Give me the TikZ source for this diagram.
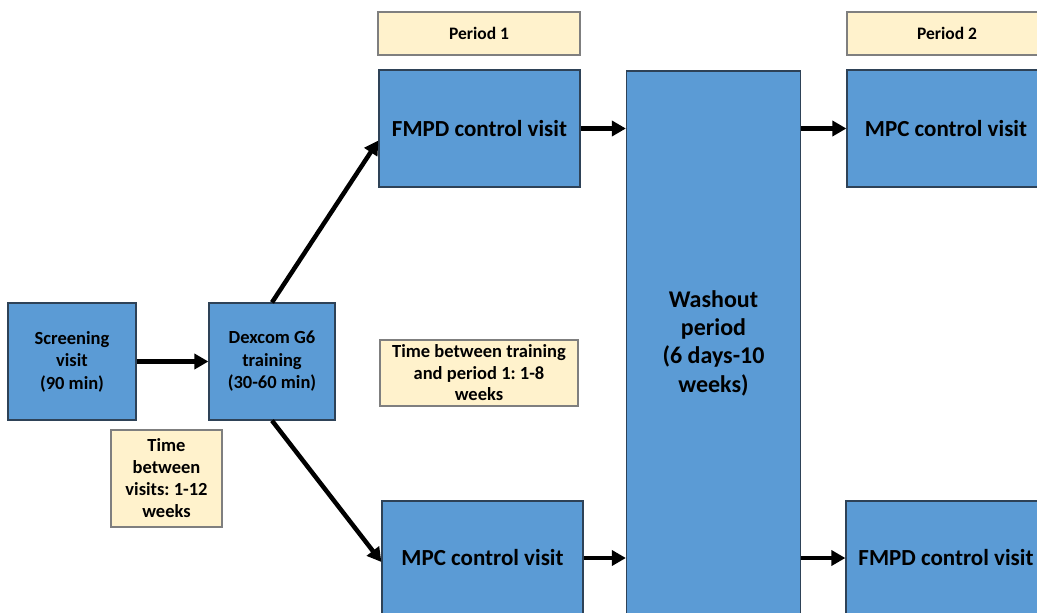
\documentclass[tikz,border=0pt]{standalone}
\usepackage{fontspec}
\setmainfont{Carlito}
\usetikzlibrary{arrows.meta,calc}
\definecolor{boxblue}{HTML}{5B9BD5}
\definecolor{boxedge}{HTML}{2E4257}
\definecolor{notefill}{HTML}{FFF2CC}
\definecolor{noteedge}{HTML}{7F7F7F}
\frenchspacing
\tikzset{
  visitbox/.style={draw=boxedge, line width=1.2pt, fill=boxblue, inner sep=0pt, align=center, font=\bfseries},
  notebox/.style={draw=noteedge, line width=1.2pt, fill=notefill, inner sep=0pt, align=center, font=\bfseries},
  flow/.style={line width=4.5pt, -{Triangle[length=14pt,width=15pt]}, shorten >=0pt},
}
\begin{document}
\begin{tikzpicture}[x=1pt,y=-1pt]
\useasboundingbox (0,0) rectangle (1037,613);
\begin{scope}
\clip (0,0) rectangle (1037,613);
\fill[white] (0,0) rectangle (1037,613);
% left boxes
\node[visitbox, minimum width=128pt, minimum height=117pt, font=\fontsize{18.5}{22.5}\selectfont\bfseries\frenchspacing] (scr) at (72,361.5) {Screening\\visit\\(90 min)};
\node[visitbox, minimum width=126pt, minimum height=117pt, font=\fontsize{18.5}{22.5}\selectfont\bfseries\frenchspacing] (dex) at (272,361.5) {Dexcom G6\\training\\(30-60 min)};
\node[notebox, minimum width=111pt, minimum height=97pt, font=\fontsize{18.5}{22}\selectfont\bfseries\frenchspacing] (tbv) at (166.5,478.5) {Time\\between\\visits: 1-12\\weeks};
% period 1
\node[notebox, minimum width=202pt, minimum height=43pt, font=\fontsize{17.5}{20}\selectfont\bfseries\frenchspacing] (p1) at (479,33.5) {Period 1};
\node[visitbox, minimum width=201pt, minimum height=117pt, font=\fontsize{23}{27}\selectfont\bfseries\frenchspacing] (fmpd) at (479.5,128.5) {FMPD control visit};
\node[notebox, minimum width=198pt, minimum height=66pt, font=\fontsize{18.5}{21.5}\selectfont\bfseries\frenchspacing] (tbt) at (479,373) {Time between training\\and period 1: 1-8\\weeks};
\node[visitbox, minimum width=201pt, minimum height=114pt, font=\fontsize{23}{27}\selectfont\bfseries\frenchspacing] (mpc) at (482.5,558) {MPC control visit};
% washout
\node[visitbox, minimum width=174pt, minimum height=544pt, font=\fontsize{24}{28.3}\selectfont\bfseries\frenchspacing] (wash) at (713.5,343) {Washout\\period\\(6 days-10\\weeks)};
% period 2
\node[notebox, minimum width=200pt, minimum height=43pt, font=\fontsize{17.5}{20}\selectfont\bfseries\frenchspacing] (p2) at (947,33.5) {Period 2};
\node[visitbox, minimum width=198pt, minimum height=117pt, font=\fontsize{23}{27}\selectfont\bfseries\frenchspacing] (mpc2) at (946,128.5) {MPC control visit};
\node[visitbox, minimum width=200pt, minimum height=114pt, font=\fontsize{23}{27}\selectfont\bfseries\frenchspacing] (fmpd2) at (946,558) {FMPD control visit};
% arrows
\draw[flow] (scr.east) -- (dex.west);
\draw[flow] (dex.north) -- ([yshift=-12pt]fmpd.west);
\draw[flow] (dex.south) -- ([yshift=-4pt]mpc.west);
\draw[flow] (fmpd.east) -- (fmpd.east -| wash.west);
\draw[flow] (mpc.east) -- (mpc.east -| wash.west);
\draw[flow] (wash.east |- mpc2.west) -- (mpc2.west);
\draw[flow] (wash.east |- fmpd2.west) -- (fmpd2.west);
\end{scope}
\end{tikzpicture}
\end{document}
